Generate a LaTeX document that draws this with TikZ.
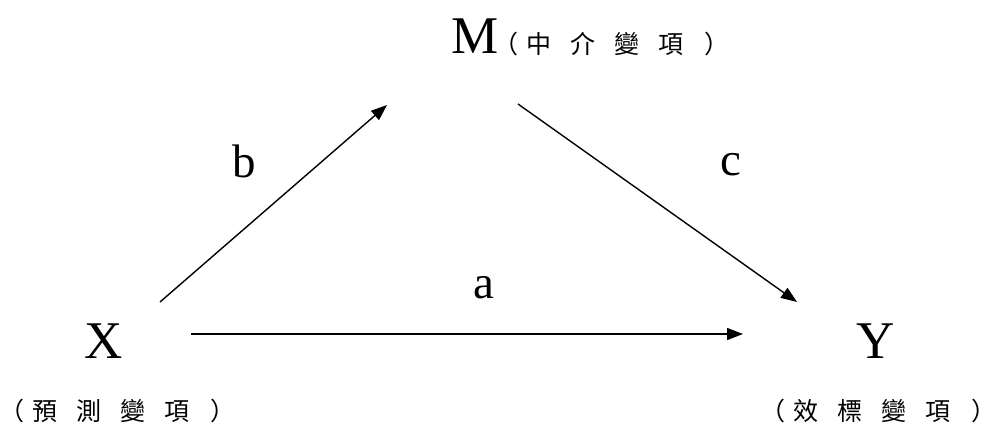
\documentclass[tikz,border=0pt]{standalone}
\usepackage{fontspec}
\setmainfont{Liberation Serif}
\newfontfamily\cjkfont{Noto Sans CJK TC}
\usetikzlibrary{arrows.meta}
\newcommand{\cjkgap}{\hspace{19pt}}
\newcommand{\cjknote}[4]{\makebox[0.5em][r]{（}\hspace{8pt}#1\cjkgap#2\cjkgap#3\cjkgap#4\hspace{21pt}\makebox[0.5em][l]{）}}
\begin{document}
\begin{tikzpicture}[x=1pt,y=-1pt,
  var/.style={font=\fontsize{53}{60}\selectfont, inner sep=0pt, anchor=base},
  lab/.style={font=\fontsize{47}{54}\selectfont, inner sep=0pt, anchor=base},
  note/.style={font=\cjkfont\fontsize{25}{30}\selectfont, inner sep=0pt, anchor=base west},
  arr/.style={line width=1.4pt, -{Triangle[length=16pt,width=12pt]}}]
\useasboundingbox (0,0) rectangle (986,423);
\node[var] (M) at (475,53) {M};
\node[note] (Mnote) at (506,53) {\cjknote{中}{介}{變}{項}};
\node[note] (Xnote) at (12,420) {\cjknote{預}{測}{變}{項}};
\node[note] (Ynote) at (773,420) {\cjknote{效}{標}{變}{項}};
\node[var] (X) at (103.5,358) {X};
\node[var] (Y) at (876,358) {Y};
\node[lab] (b) at (244,177) {b};
\node[lab] (c) at (731,175) {c};
\node[lab] (a) at (484,298) {a};
\coordinate (b1) at (160,302);
\coordinate (b2) at (387,105);
\coordinate (c1) at (518,104);
\coordinate (c2) at (797,302);
\coordinate (a1) at (191,334);
\coordinate (a2) at (743,334);
\draw[arr] (b1) -- (b2);
\draw[arr] (c1) -- (c2);
\draw[arr] (a1) -- (a2);
\end{tikzpicture}
\end{document}
